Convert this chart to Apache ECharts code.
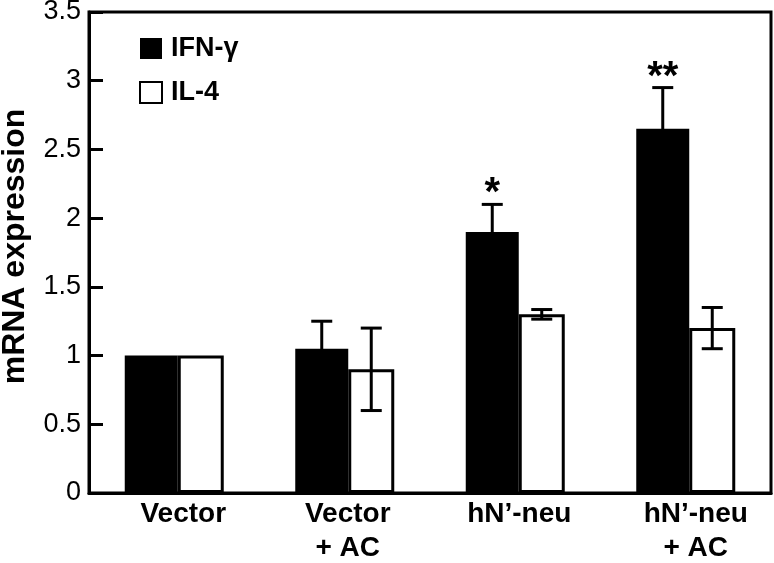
<!DOCTYPE html>
<html>
<head>
<meta charset="utf-8">
<script src="https://cdn.jsdelivr.net/npm/echarts@6/dist/echarts.min.js"></script>
<style>
html,body{margin:0;padding:0;background:#fff;}
#chart{width:774px;height:563px;}
</style>
</head>
<body>
<div id="chart"></div>
<script>
const categories = ['Vector', 'Vector\n+ AC', 'hN\u2019-neu', 'hN\u2019-neu\n+ AC'];
const ifnValues = [1.0, 1.05, 1.9, 2.65];
const ifnErrors = [0, 0.2, 0.2, 0.3];
const il4Values = [1.0, 0.9, 1.3, 1.2];
const il4Errors = [0, 0.3, 0.035, 0.15];
const significance = ['', '', '*', '**'];
const seriesNames = ['IFN-\u03b3', 'IL-4'];
const yMin = 0, yMax = 3.5, yInterval = 0.5;

const FONT = 'Liberation Sans, Arial, sans-serif';
const BW_BLACK = 53, BW_WHITE = 46, CAP = 21;
const OFF_BLACK = -(BW_BLACK + BW_WHITE) / 2 + BW_BLACK / 2;
const OFF_WHITE = -(BW_BLACK + BW_WHITE) / 2 + BW_BLACK + BW_WHITE / 2;
const LABEL_SHIFT = [18, 6, 8, 20];

function errorSeries(values, errors, offset) {
  return {
    type: 'custom',
    z: 10,
    encode: { x: 0, y: 1 },
    data: values.map((v, i) => [i, v, errors[i]]),
    renderItem: function (params, api) {
      const i = api.value(0), v = api.value(1), e = api.value(2);
      if (!e) return null;
      const top = api.coord([i, v + e]);
      const bot = api.coord([i, v - e]);
      const x = top[0] + offset;
      const st = { stroke: '#000', lineWidth: 3 };
      return {
        type: 'group',
        children: [
          { type: 'line', shape: { x1: x, y1: top[1], x2: x, y2: bot[1] }, style: st },
          { type: 'line', shape: { x1: x - CAP / 2, y1: top[1], x2: x + CAP / 2, y2: top[1] }, style: st },
          { type: 'line', shape: { x1: x - CAP / 2, y1: bot[1], x2: x + CAP / 2, y2: bot[1] }, style: st }
        ]
      };
    }
  };
}

const rich = {};
LABEL_SHIFT.forEach((s, i) => {
  rich['l' + i] = { fontSize: 28, fontWeight: 'bold', fontFamily: FONT, color: '#000', lineHeight: 34, padding: [0, 0, 0, s] };
});

const chart = echarts.init(document.getElementById('chart'));
chart.setOption({
  animation: false,
  backgroundColor: '#fff',
  grid: { left: 89, right: 3, top: 12, bottom: 70, show: true, borderColor: '#000', borderWidth: 3,
    backgroundColor: 'transparent', containLabel: false, outerBoundsMode: 'none' },
  legend: {
    data: seriesNames,
    orient: 'vertical',
    icon: 'rect',
    left: 139, top: 35, padding: 0,
    itemWidth: 22, itemHeight: 21, itemGap: 17,
    textStyle: { fontSize: 27, fontWeight: 'bold', fontFamily: FONT, color: '#000', padding: [0, 0, 0, 4] }
  },
  xAxis: {
    type: 'category',
    data: categories,
    axisLine: { lineStyle: { color: '#000', width: 3 } },
    axisTick: { inside: true, length: 12, lineStyle: { color: '#000', width: 3 } },
    axisLabel: {
      interval: 0, hideOverlap: false,
      margin: 4, color: '#000', fontSize: 28, fontWeight: 'bold', fontFamily: FONT, lineHeight: 34,
      formatter: function (val, idx) {
        return val.split('\n').map(s => '{l' + idx + '|' + s + '}').join('\n');
      },
      rich: rich
    }
  },
  yAxis: {
    type: 'value',
    min: yMin, max: yMax, interval: yInterval,
    name: 'mRNA expression',
    nameLocation: 'middle',
    nameGap: 58,
    nameTextStyle: { fontSize: 32, fontWeight: 'bold', fontFamily: FONT, color: '#000', padding: [0, 0, 0, 12] },
    splitLine: { show: false },
    axisLine: { show: true, lineStyle: { color: '#000', width: 3 } },
    axisTick: { show: true, inside: true, length: 14, lineStyle: { color: '#000', width: 3 } },
    axisLabel: { margin: 8, color: '#000', fontSize: 27, fontFamily: FONT }
  },
  series: [
    { name: seriesNames[0], type: 'bar', data: ifnValues, barWidth: BW_BLACK, barGap: '0%',
      itemStyle: { color: '#000' } },
    { name: seriesNames[1], type: 'bar', data: il4Values, barWidth: BW_WHITE, barGap: '0%',
      itemStyle: { color: '#fff', borderColor: '#000', borderWidth: 3 } },
    errorSeries(ifnValues, ifnErrors, OFF_BLACK),
    errorSeries(il4Values, il4Errors, OFF_WHITE),
    {
      type: 'custom', z: 11, encode: { x: 0, y: 1 },
      data: ifnValues.map((v, i) => [i, v + ifnErrors[i], significance[i]]),
      renderItem: function (params, api) {
        const txt = significance[params.dataIndex];
        if (!txt) return null;
        const p = api.coord([api.value(0), api.value(1)]);
        return { type: 'text', style: { text: txt, x: p[0] + OFF_BLACK, y: p[1] - 10, align: 'center', verticalAlign: 'middle',
          font: 'bold 40px ' + FONT, fill: '#000' } };
      }
    }
  ]
});
</script>
</body>
</html>
